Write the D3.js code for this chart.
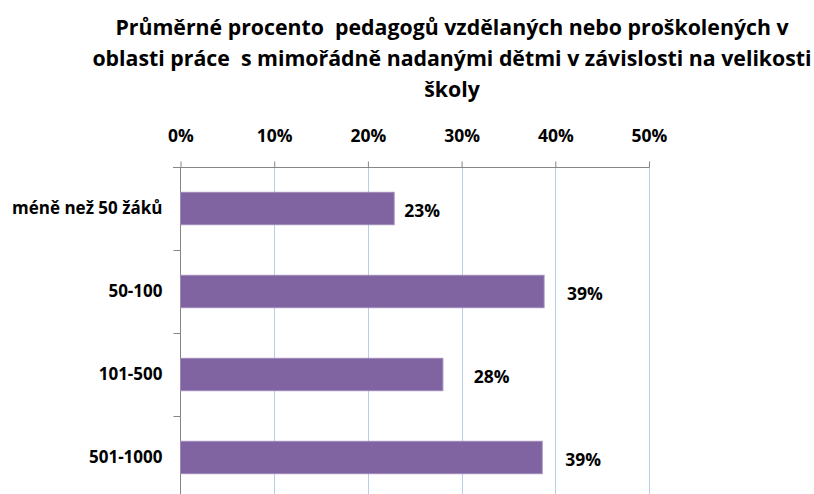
<!DOCTYPE html>
<html>
<head>
<meta charset="utf-8">
<script src="https://cdn.jsdelivr.net/npm/d3@7"></script>
<style>
  body { margin: 0; background: #fff; }
  text { font-family: "Open Sans", sans-serif; font-weight: bold; fill: #000; white-space: pre; }
</style>
</head>
<body>
<script>
const titleLines = [
  'Průměrné procento  pedagogů vzdělaných nebo proškolených v',
  'oblasti práce  s mimořádně nadanými dětmi v závislosti na velikosti',
  'školy'
];
const categories = ['méně než 50 žáků', '50-100', '101-500', '501-1000'];
const values = [0.228, 0.388, 0.280, 0.386];
const valueLabels = ['23%', '39%', '28%', '39%'];
const ticks = [0, 0.1, 0.2, 0.3, 0.4, 0.5];
// label offsets from bar end, as placed in the original
const labelDx = [10, 23, 31, 23];

const width = 814, height = 494;

const svg = d3.select('body').append('svg')
    .attr('width', width)
    .attr('height', height);

const title = svg.append('text')
    .attr('x', 452)
    .attr('y', 35)
    .attr('text-anchor', 'middle')
    .style('font-size', '21.3px');
title.selectAll('tspan')
    .data(titleLines)
    .enter()
    .append('tspan')
    .attr('x', 452)
    .attr('dy', (d, i) => i === 0 ? 0 : 31)
    .text(d => d);

const x = d3.scaleLinear()
    .domain([0, 0.5])
    .range([180.5, 649]);

const y = d3.scaleBand()
    .domain(categories)
    .range([167, 499])
    .paddingInner(0.61)
    .paddingOuter(0.305);

// gridlines
svg.append('g')
    .selectAll('line')
    .data(ticks.slice(1))
    .enter()
    .append('line')
    .attr('x1', d => Math.round(x(d)) + 0.5)
    .attr('x2', d => Math.round(x(d)) + 0.5)
    .attr('y1', 167)
    .attr('y2', height)
    .attr('stroke', '#B9CDE5')
    .attr('stroke-width', 1);

// top axis
const xAxis = d3.axisTop(x)
    .tickValues(ticks)
    .tickFormat(d3.format('.0%'))
    .tickSize(6)
    .tickSizeOuter(0);

const gx = svg.append('g')
    .attr('transform', 'translate(0,167.5)')
    .call(xAxis);
gx.select('.domain').attr('stroke', '#868686').attr('d', 'M173,0H649');
gx.selectAll('.tick line').attr('stroke', '#868686');
gx.selectAll('.tick text')
    .attr('y', -32)
    .attr('dy', '0.35em')
    .style('font-size', '17.5px')
    .style('font-family', '"Open Sans", sans-serif')
    .style('font-weight', 'bold');

// left axis
const gy = svg.append('g')
    .attr('transform', 'translate(180.5,0)');
gy.append('line')
    .attr('y1', 167)
    .attr('y2', height)
    .attr('stroke', '#868686');
const step = y.step();
gy.selectAll('.cat-tick')
    .data(categories)
    .enter()
    .append('line')
    .attr('class', 'cat-tick')
    .attr('x1', -7)
    .attr('x2', 0)
    .attr('y1', d => Math.round(y(d) - y.paddingOuter() * step + step) + 0.5)
    .attr('y2', d => Math.round(y(d) - y.paddingOuter() * step + step) + 0.5)
    .attr('stroke', '#868686');
gy.selectAll('.cat-label')
    .data(categories)
    .enter()
    .append('text')
    .attr('class', 'cat-label')
    .attr('x', -18)
    .attr('y', d => y(d) + y.bandwidth() / 2)
    .attr('dy', '0.35em')
    .attr('text-anchor', 'end')
    .style('font-size', '17px')
    .text(d => d);

// bars
svg.append('g')
    .selectAll('rect')
    .data(values)
    .enter()
    .append('rect')
    .attr('x', x(0))
    .attr('y', (d, i) => y(categories[i]))
    .attr('width', d => x(d) - x(0))
    .attr('height', y.bandwidth())
    .attr('fill', '#8064A2')
    .attr('stroke', '#9D89BA')
    .attr('stroke-width', 1);

// value labels
svg.append('g')
    .selectAll('text')
    .data(values)
    .enter()
    .append('text')
    .attr('x', (d, i) => x(d) + labelDx[i])
    .attr('y', (d, i) => y(categories[i]) + y.bandwidth() / 2 + 2)
    .attr('dy', '0.35em')
    .style('font-size', '17.5px')
    .text((d, i) => valueLabels[i]);
</script>
</body>
</html>
